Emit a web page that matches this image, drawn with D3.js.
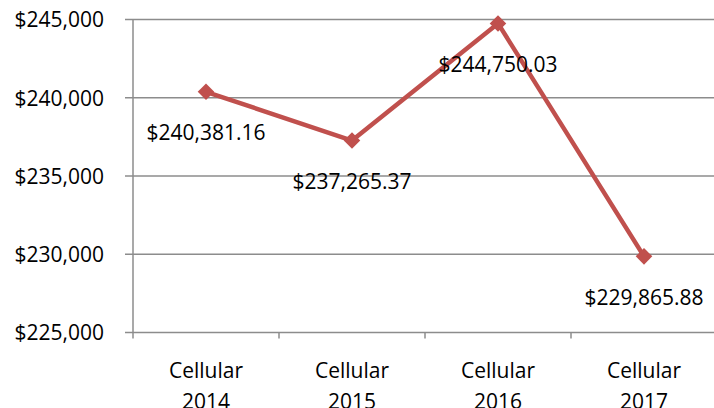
<!DOCTYPE html>
<html>
<head>
<script src="https://d3js.org/d3.v7.min.js"></script>
<style>
  body { margin: 0; background: #fff; }
  text { font-family: "Open Sans", "Noto Sans", sans-serif; fill: #000; }
</style>
</head>
<body>
<div id="chart"></div>
<script>
  // chart values
  var categories = ["Cellular 2014", "Cellular 2015", "Cellular 2016", "Cellular 2017"];
  var values = [240381.16, 237265.37, 244750.03, 229865.88];
  var valueLabels = ["$240,381.16", "$237,265.37", "$244,750.03", "$229,865.88"];
  var yTicks = [225000, 230000, 235000, 240000, 245000];

  var width = 714, height = 408;
  var plotLeft = 133, plotRight = 717, plotTop = 19.5, plotBottom = 332.5;

  var svg = d3.select("#chart").append("svg")
    .attr("width", width)
    .attr("height", height);

  var x = d3.scaleBand().domain(categories).range([plotLeft, plotRight]);
  var y = d3.scaleLinear().domain([225000, 245000]).range([plotBottom, plotTop]);

  // gridlines
  svg.append("g")
    .selectAll("line")
    .data(yTicks)
    .enter().append("line")
    .attr("x1", plotLeft - 8)
    .attr("x2", width)
    .attr("y1", function(d) { return y(d); })
    .attr("y2", function(d) { return y(d); })
    .attr("stroke", "#8c8c8c")
    .attr("stroke-width", 1.5);

  // y axis
  var yAxis = svg.append("g")
    .attr("transform", "translate(" + (plotLeft - 8) + ",0)")
    .call(d3.axisLeft(y).tickValues(yTicks).tickSize(0).tickPadding(21)
      .tickFormat(function(d) { return "$" + d3.format(",")(d); }));
  yAxis.select(".domain").remove();
  yAxis.selectAll("text").attr("font-size", 21).attr("font-family", "Open Sans").attr("fill", "#000")
    .attr("dy", "0.35em");

  svg.append("line")
    .attr("x1", plotLeft).attr("x2", plotLeft)
    .attr("y1", plotTop).attr("y2", plotBottom + 6)
    .attr("stroke", "#8c8c8c").attr("stroke-width", 1.5);

  // x axis ticks
  var xTicks = categories.map(function(c) { return x(c); }).slice(1);
  svg.append("g").selectAll("line")
    .data(xTicks).enter().append("line")
    .attr("x1", function(d) { return d; })
    .attr("x2", function(d) { return d; })
    .attr("y1", plotBottom).attr("y2", plotBottom + 6)
    .attr("stroke", "#8c8c8c").attr("stroke-width", 1.5);

  // category labels
  var catText = svg.append("g").selectAll("text")
    .data(categories).enter().append("text")
    .attr("x", function(d) { return x(d) + x.bandwidth() / 2; })
    .attr("y", 378)
    .attr("text-anchor", "middle")
    .attr("font-size", 21);
  catText.append("tspan").text(function(d) { return d.split(" ")[0]; });
  catText.append("tspan")
    .attr("x", function(d) { return x(d) + x.bandwidth() / 2; })
    .attr("dy", 31)
    .text(function(d) { return d.split(" ")[1]; });

  var cx = function(d, i) { return x(categories[i]) + x.bandwidth() / 2; };

  // line
  svg.append("path")
    .datum(values)
    .attr("d", d3.line().x(cx).y(function(d) { return y(d); }))
    .attr("fill", "none")
    .attr("stroke", "#c0504d")
    .attr("stroke-width", 4.5)
    .attr("stroke-linejoin", "round");

  // diamond markers
  svg.append("g").selectAll("path")
    .data(values).enter().append("path")
    .attr("d", d3.symbol().type(d3.symbolDiamond2).size(175))
    .attr("transform", function(d, i) { return "translate(" + cx(d, i) + "," + y(d) + ")"; })
    .attr("fill", "#c0504d");

  // data labels
  svg.append("g").selectAll("text")
    .data(values).enter().append("text")
    .attr("x", cx)
    .attr("y", function(d) { return y(d) + 41; })
    .attr("dy", "0.35em")
    .attr("text-anchor", "middle")
    .attr("font-size", 21)
    .text(function(d, i) { return valueLabels[i]; });
</script>
</body>
</html>
